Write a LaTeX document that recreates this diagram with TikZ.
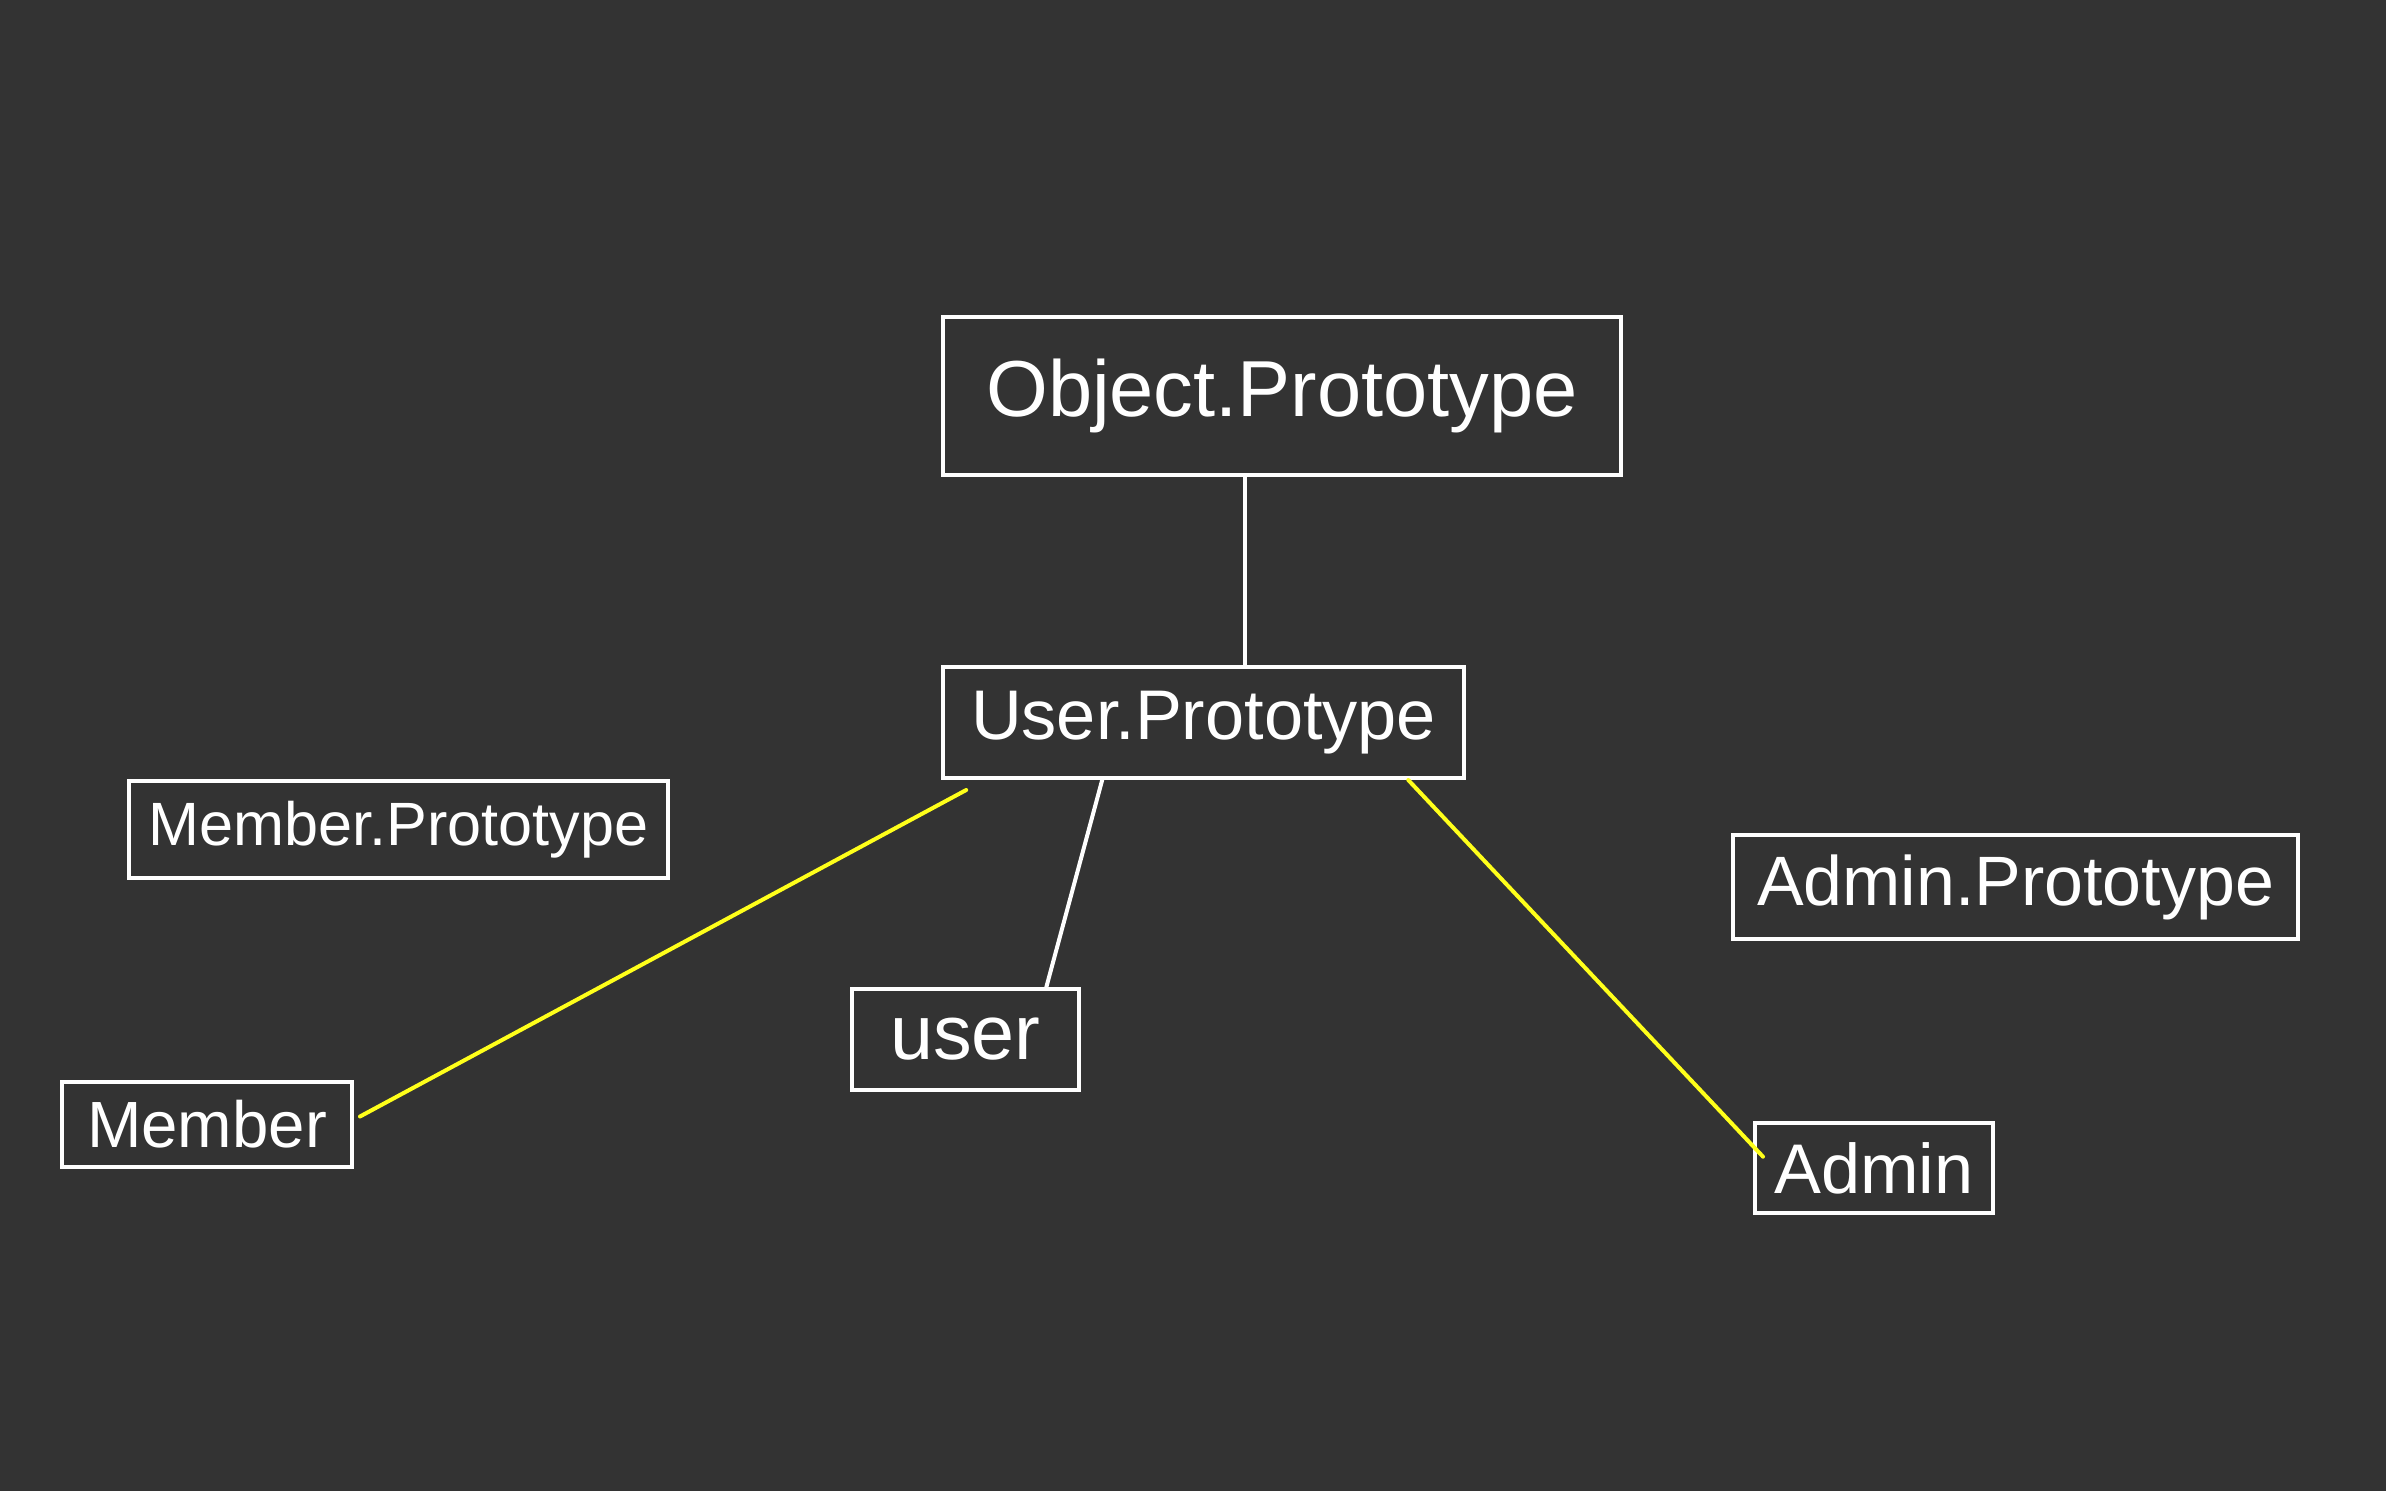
\documentclass[tikz,border=0pt]{standalone}
\usepackage{fontspec}
\setmainfont{Liberation Sans}
\usetikzlibrary{calc}
\definecolor{board}{HTML}{333333}
\definecolor{marker}{HTML}{FFFF1A}
\newcommand{\fs}[1]{\fontsize{#1}{#1}\selectfont}

\begin{document}
\begin{tikzpicture}[x=1mm, y=-1mm, line width=0.4mm,
    box/.style={draw=white, text=white, inner sep=0pt},
    link/.style={white, line cap=round},
    hilite/.style={marker, line cap=round}]
  \fill[board] (0,0) rectangle (238.6,149.1);

  \node[box, minimum width=67.8mm, minimum height=15.8mm] (objproto) at (128.2,39.6) {\fs{22.6}Object.Prototype};
  \node[box, minimum width=52.1mm, minimum height=11.1mm] (userproto) at (120.35,72.25) {\fs{20}User.Prototype};
  \node[box, minimum width=53.9mm, minimum height=9.7mm] (memberproto) at (39.85,82.95) {\fs{17.4}Member.Prototype};
  \node[box, minimum width=56.5mm, minimum height=10.4mm] (adminproto) at (201.55,88.7) {\fs{19.9}Admin.Prototype};
  \node[box, minimum width=22.7mm, minimum height=10.1mm] (user) at (96.55,103.95) {\fs{22}user};
  \node[box, minimum width=29mm, minimum height=8.5mm] (member) at (20.7,112.45) {\fs{18.6}Member};
  \node[box, minimum width=23.8mm, minimum height=9mm] (admin) at (187.4,116.8) {\fs{20}Admin};

  % prototype chain
  \coordinate (up) at ($(objproto.south west)!0.445!(objproto.south east)$);
  \draw[link] (up) -- (up |- userproto.north);
  \draw[link] ($(userproto.south west)!0.307!(userproto.south east)$)
    -- ($(user.north west)!0.85!(user.north east)$);

  % missing links
  \draw[hilite] ($(userproto.south west)!0.048!(userproto.south east)+(0,1)$)
    -- ($(member.north east)!0.41!(member.south east)+(0.6,0)$);
  \draw[hilite] ($(userproto.south west)!0.89!(userproto.south east)$)
    -- ($(admin.north west)!0.38!(admin.south west)+(1,0)$);
\end{tikzpicture}
\end{document}
